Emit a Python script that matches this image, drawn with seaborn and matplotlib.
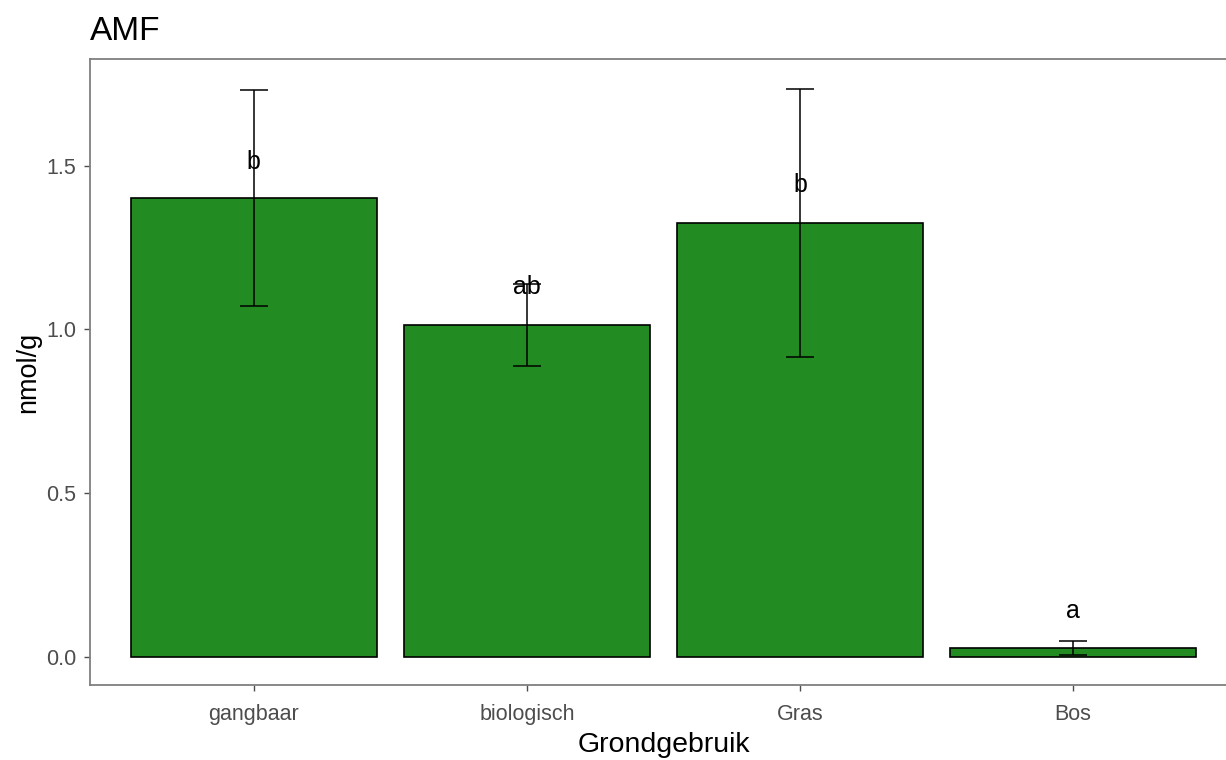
import matplotlib
matplotlib.use("Agg")
import matplotlib.pyplot as plt
import seaborn as sns
import pandas as pd

# Land-use categories and AMF biomarker means (nmol/g) with standard errors
categories = ["gangbaar", "biologisch", "Gras", "Bos"]
means = [1.40, 1.013, 1.325, 0.025]
errors = [0.33, 0.124, 0.41, 0.021]
letters = ["b", "ab", "b", "a"]
letter_y = [1.51, 1.13, 1.44, 0.14]

df = pd.DataFrame({"Grondgebruik": categories, "nmol_g": means})

sns.set_theme(style="white")
plt.rcParams["font.family"] = ["Liberation Sans", "DejaVu Sans"]

fig = plt.figure(figsize=(12.26, 7.6), dpi=100)
# the panel runs slightly past the right edge of the canvas
ax = fig.add_axes([0.0734, 0.0987, 0.9356, 0.8237])

sns.barplot(data=df, x="Grondgebruik", y="nmol_g", order=categories,
            color="#228B22", saturation=1, edgecolor="black", linewidth=1.2,
            width=0.9, errorbar=None, ax=ax)

ax.errorbar(range(len(categories)), means, yerr=errors, fmt="none",
            ecolor="black", elinewidth=1.1, capsize=10, capthick=1.1)

for i, (lab, y) in enumerate(zip(letters, letter_y)):
    ax.text(i, y, lab, ha="center", va="center", fontsize=18, color="black")

ax.set_xlim(-0.6, 3.6)
ax.set_ylim(-0.087, 1.826)
ax.set_yticks([0.0, 0.5, 1.0, 1.5])
ax.set_yticklabels(["0.0", "0.5", "1.0", "1.5"])

for side in ["left", "right", "top", "bottom"]:
    ax.spines[side].set_visible(True)
    ax.spines[side].set_color("#7f7f7f")
    ax.spines[side].set_linewidth(1.3)

ax.tick_params(axis="both", which="both", length=4, width=1.0,
               color="#4d4d4d", labelcolor="#4d4d4d", labelsize=15.5,
               bottom=True, left=True)
ax.tick_params(axis="x", pad=10)
ax.tick_params(axis="y", pad=6)

ax.set_xlabel("Grondgebruik", fontsize=20.5, color="black", labelpad=5)
ax.set_ylabel("nmol/g", fontsize=19.5, color="black", labelpad=3)
ax.set_title("AMF", fontsize=24, color="black", loc="left", pad=14, x=-0.0)

fig.savefig("out.png", dpi=100, facecolor="white")
